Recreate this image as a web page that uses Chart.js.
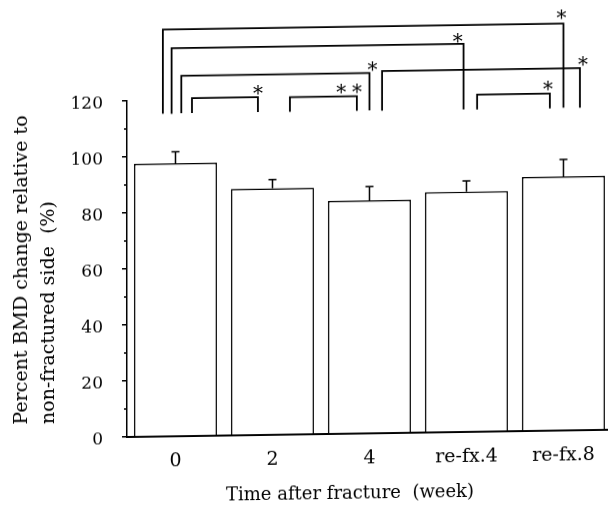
<!DOCTYPE html>
<html>
<head>
<meta charset="utf-8">
<script src="https://cdn.jsdelivr.net/npm/chart.js@4.4.1/dist/chart.umd.min.js"></script>
<style>
  html, body { margin: 0; padding: 0; background: #fff; overflow: hidden; }
  /* the scanned figure is slightly sheared: horizontals rise to the right */
  #wrap { width: 612px; height: 513px; position: relative; transform: skewY(-0.86deg); transform-origin: 127px 0; }
</style>
</head>
<body>
<div id="wrap"><canvas id="chart"></canvas></div>
<script>
const CATEGORIES = ["0", "2", "4", "re-fx.4", "re-fx.8"];
const BMD_MEAN = [97.5, 88.0, 83.2, 85.8, 90.7];
const BMD_SD = [4.1, 3.2, 4.9, 3.8, 6.1];
const Y_MINOR = [10, 30, 50, 70, 90, 110];

// significance brackets: ends in category-index units, heights in % units
const BR_FROM = [-0.13, -0.04, 0.06, 0.17, 1.18, 2.13, 3.11];
const BR_TO = [4.0, 2.97, 2.0, 0.85, 1.87, 4.17, 3.86];
const BR_TOP = [145.3, 138.6, 128.7, 120.7, 120.5, 129.3, 120.4];
const BR_FOOT = [115.3, 115.2, 115.4, 115.4, 115.3, 115.2, 115.1];

// asterisks
const STAR_X = [3.98, 2.91, 2.03, 0.85, 1.71, 1.87, 4.2, 3.84];
const STAR_Y = [148.4, 140.7, 131.2, 123.2, 123.1, 123.1, 131.8, 123.1];

const FONT = '"DejaVu Serif", serif';

const overlay = {
  id: "overlay",
  afterDatasetsDraw(chart) {
    const ctx = chart.ctx;
    const xs = chart.scales.x;
    const ys = chart.scales.y;
    const meta = chart.getDatasetMeta(0);
    ctx.save();
    ctx.strokeStyle = "#000";
    ctx.fillStyle = "#000";
    ctx.lineWidth = 1.5;

    // upper error bars
    ctx.beginPath();
    meta.data.forEach((bar, i) => {
      const top = ys.getPixelForValue(BMD_MEAN[i] + BMD_SD[i]);
      ctx.moveTo(bar.x, bar.y);
      ctx.lineTo(bar.x, top);
      ctx.moveTo(bar.x - 4, top);
      ctx.lineTo(bar.x + 4, top);
    });
    // minor y ticks
    Y_MINOR.forEach(v => {
      const py = ys.getPixelForValue(v);
      ctx.moveTo(ys.right - 3, py);
      ctx.lineTo(ys.right, py);
    });
    ctx.stroke();

    // brackets
    ctx.lineWidth = 1.8;
    ctx.beginPath();
    BR_FROM.forEach((f, i) => {
      const x1 = xs.getPixelForValue(f);
      const x2 = xs.getPixelForValue(BR_TO[i]);
      const yt = ys.getPixelForValue(BR_TOP[i]);
      const yf = ys.getPixelForValue(BR_FOOT[i]);
      ctx.moveTo(x1, yf);
      ctx.lineTo(x1, yt);
      ctx.lineTo(x2, yt);
      ctx.lineTo(x2, yf);
    });
    ctx.stroke();

    // stars
    ctx.font = "20px " + FONT;
    ctx.textAlign = "center";
    ctx.textBaseline = "alphabetic";
    const m = ctx.measureText("*");
    const dy = (m.actualBoundingBoxAscent - m.actualBoundingBoxDescent) / 2;
    STAR_X.forEach((sx, i) => {
      ctx.fillText("*", xs.getPixelForValue(sx), ys.getPixelForValue(STAR_Y[i]) + dy);
    });

    // axis titles
    ctx.font = "18px " + FONT;
    ctx.textBaseline = "middle";
    ctx.fillText("Time after fracture  (week)", 350, 497);
    ctx.font = "19px " + FONT;
    ctx.translate(0, 423);
    ctx.rotate(-Math.PI / 2);
    ctx.textAlign = "left";
    ctx.fillText("Percent BMD change relative to", 0, 22);
    ctx.fillText("non-fractured side  (%)", 0, 49);
    ctx.restore();
  }
};

new Chart(document.getElementById("chart"), {
  type: "bar",
  data: {
    labels: CATEGORIES,
    datasets: [{
      data: BMD_MEAN,
      backgroundColor: "#fff",
      borderColor: "#000",
      borderWidth: 1.5,
      categoryPercentage: 1,
      barPercentage: 0.855
    }]
  },
  options: {
    responsive: true,
    maintainAspectRatio: false,
    animation: false,
    layout: { padding: { top: 101, right: 0, bottom: 0, left: 0 } },
    plugins: { legend: { display: false }, tooltip: { enabled: false } },
    scales: {
      x: {
        grid: { display: false, drawTicks: false },
        border: { display: true, color: "#000", width: 2 },
        ticks: { color: "#000", font: { family: FONT, size: 19 }, padding: 14 },
        afterFit: s => { s.height = 76; }
      },
      y: {
        min: 0,
        max: 120,
        ticks: { stepSize: 20, color: "#000", font: { family: FONT, size: 17 }, padding: 19, labelOffset: 2.5 },
        grid: { drawOnChartArea: false, tickLength: 5, color: "#000", lineWidth: 1.5 },
        border: { display: true, color: "#000", width: 1.5 },
        afterFit: s => { s.width = 127; }
      }
    }
  },
  plugins: [overlay]
});
</script>
</body>
</html>
